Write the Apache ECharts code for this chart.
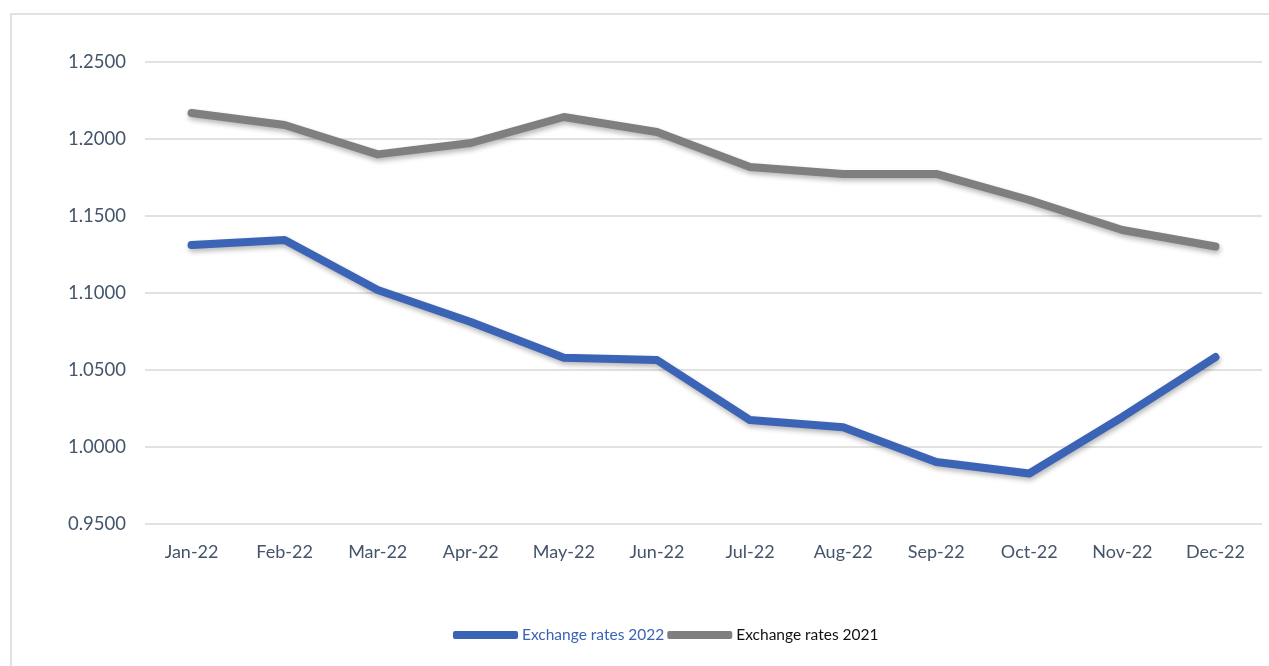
<!DOCTYPE html>
<html>
<head>
<meta charset="utf-8">
<script src="https://cdn.jsdelivr.net/npm/echarts@6/dist/echarts.min.js"></script>
<style>
  html, body { margin: 0; padding: 0; background: #ffffff; }
  #chart { width: 1269px; height: 666px; }
</style>
</head>
<body>
<div id="chart"></div>
<script>
// Monthly exchange rates, 2022 vs 2021
const months = ['Jan-22', 'Feb-22', 'Mar-22', 'Apr-22', 'May-22', 'Jun-22',
                'Jul-22', 'Aug-22', 'Sep-22', 'Oct-22', 'Nov-22', 'Dec-22'];
const rates2022 = [1.1312, 1.1344, 1.1020, 1.0812, 1.0580, 1.0565,
                   1.0175, 1.0128, 0.9903, 0.9828, 1.0195, 1.0584];
const rates2021 = [1.2169, 1.2091, 1.1900, 1.1974, 1.2143, 1.2045,
                   1.1818, 1.1773, 1.1773, 1.1604, 1.1409, 1.1302];
const seriesNames = ['Exchange rates 2022', 'Exchange rates 2021'];

const BLUE = '#3b63b6';
const GRAY = '#7f7f7f';
const FONT = 'Lato, "Open Sans", sans-serif';

const chart = echarts.init(document.getElementById('chart'), null, { renderer: 'canvas' });

const lineShadow = {
  shadowColor: 'rgba(0,0,0,0.28)',
  shadowBlur: 5,
  shadowOffsetX: 1,
  shadowOffsetY: 3
};

chart.setOption({
  backgroundColor: '#ffffff',
  animation: false,
  graphic: [{
    type: 'rect',
    shape: { x: 11, y: 14, width: 1280, height: 700 },
    style: { fill: 'none', stroke: '#d9d9d9', lineWidth: 1.5 },
    silent: true,
    z: -1
  }],
  grid: { left: 145, right: 7, top: 62, bottom: 142, containLabel: false },
  legend: {
    bottom: 18,
    left: 448,
    icon: 'roundRect',
    itemWidth: 65,
    itemHeight: 8,
    itemGap: 3,
    textStyle: { fontFamily: FONT, fontSize: 15.5, padding: [0, 0, 0, -1] },
    data: [
      { name: seriesNames[0], textStyle: { color: BLUE } },
      { name: seriesNames[1], textStyle: { color: '#111111' } }
    ]
  },
  xAxis: {
    type: 'category',
    data: months,
    boundaryGap: true,
    axisLine: { show: false },
    axisTick: { show: false },
    axisLabel: { color: '#44546a', fontFamily: FONT, fontSize: 18, margin: 19 }
  },
  yAxis: {
    type: 'value',
    min: 0.95,
    max: 1.25,
    interval: 0.05,
    axisLine: { show: false },
    axisTick: { show: false },
    axisLabel: {
      color: '#44546a',
      fontFamily: FONT,
      fontSize: 18.5,
      margin: 19,
      formatter: v => v.toFixed(4)
    },
    splitLine: { lineStyle: { color: '#d9d9d9', width: 1.5 } }
  },
  series: [
    {
      name: seriesNames[0],
      type: 'line',
      data: rates2022,
      showSymbol: false,
      symbol: 'none',
      itemStyle: { color: BLUE },
      lineStyle: Object.assign({ color: BLUE, width: 8, cap: 'round', join: 'round' }, lineShadow)
    },
    {
      name: seriesNames[1],
      type: 'line',
      data: rates2021,
      showSymbol: false,
      symbol: 'none',
      itemStyle: { color: GRAY },
      lineStyle: Object.assign({ color: GRAY, width: 8, cap: 'round', join: 'round' }, lineShadow)
    }
  ]
});
</script>
</body>
</html>
